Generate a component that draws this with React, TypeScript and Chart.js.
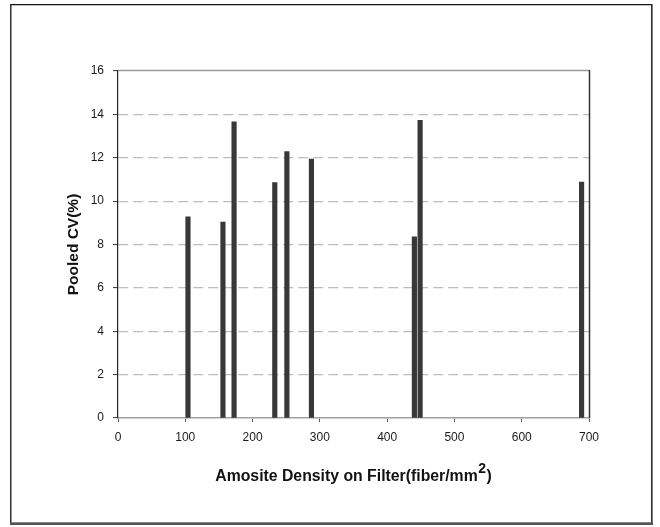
import React, { useEffect, useRef } from "react";
import { Chart, registerables } from "chart.js";

Chart.register(...registerables);

const densities = [104, 156, 172.5, 233, 251, 287.5, 440.5, 449, 689];
const pooledCV = [9.28, 9.03, 13.66, 10.85, 12.29, 11.94, 8.35, 13.72, 10.88];
const yTitle = "Pooled CV(%)";
const xTitleMain = "Amosite Density on Filter(fiber/mm";
const xTitleSup = "2";
const xTitleEnd = ")";

const FONT = "'Liberation Sans', Arial, Helvetica, sans-serif";

const framePlugin = {
  id: "framePlugin",
  afterDraw(chart: any) {
    const { ctx, chartArea } = chart;
    ctx.save();
    // plot top and right borders
    ctx.strokeStyle = "#9a9a9a";
    ctx.lineWidth = 1.5;
    ctx.beginPath();
    ctx.moveTo(chartArea.left, chartArea.top - 0.5);
    ctx.lineTo(chartArea.right, chartArea.top - 0.5);
    ctx.stroke();
    ctx.strokeStyle = "#333";
    ctx.lineWidth = 1.5;
    ctx.beginPath();
    ctx.moveTo(chartArea.right + 0.5, chartArea.top - 1);
    ctx.lineTo(chartArea.right + 0.5, chartArea.bottom);
    ctx.stroke();

    // outer frame
    ctx.strokeStyle = "#111";
    ctx.lineWidth = 1.3;
    ctx.beginPath();
    ctx.moveTo(10.8, 525);
    ctx.lineTo(10.8, 4.6);
    ctx.lineTo(652, 4.6);
    ctx.stroke();
    ctx.strokeStyle = "#333";
    ctx.lineWidth = 1.7;
    ctx.beginPath();
    ctx.moveTo(651.8, 4);
    ctx.lineTo(651.8, 525);
    ctx.stroke();
    ctx.fillStyle = "#555";
    ctx.fillRect(10, 522.3, 643, 2.7);

    // x-axis title with superscript
    const cx = (chartArea.left + chartArea.right) / 2;
    const baseY = 481;
    ctx.fillStyle = "#111";
    ctx.textBaseline = "alphabetic";
    ctx.textAlign = "left";
    const mainFont = "bold 15.8px " + FONT;
    const supFont = "bold 14px " + FONT;
    ctx.font = mainFont;
    const w1 = ctx.measureText(xTitleMain).width;
    const w3 = ctx.measureText(xTitleEnd).width;
    ctx.font = supFont;
    const w2 = ctx.measureText(xTitleSup).width;
    const total = w1 + w2 + w3 + 1;
    let x = cx - total / 2;
    ctx.font = mainFont;
    ctx.fillText(xTitleMain, x, baseY);
    x += w1 + 0.5;
    ctx.font = supFont;
    ctx.fillText(xTitleSup, x, baseY - 8);
    x += w2 + 0.5;
    ctx.font = mainFont;
    ctx.fillText(xTitleEnd, x, baseY);
    ctx.restore();
  },
};

export default function App() {
  const canvasRef = useRef<HTMLCanvasElement | null>(null);

  useEffect(() => {
    const canvas = canvasRef.current;
    if (!canvas) return;
    const chart = new Chart(canvas, {
      type: "bar",
      data: {
        datasets: [
          {
            data: densities.map((d, i) => ({ x: d, y: pooledCV[i] })),
            backgroundColor: "#383838",
            borderColor: "#2a2a2a",
            borderWidth: 0,
            barThickness: 4.5,
          },
        ],
      },
      options: {
        animation: false,
        responsive: false,
        devicePixelRatio: 1,
        layout: { padding: { left: 0, top: 71, right: 71, bottom: 0 } },
        plugins: {
          legend: { display: false },
          tooltip: { enabled: false },
        },
        scales: {
          x: {
            type: "linear",
            min: 0,
            max: 700,
            offset: false,
            afterFit: (s: any) => {
              s.height = 109;
            },
            ticks: {
              stepSize: 100,
              padding: 8,
              color: "#1a1a1a",
              font: { family: FONT, size: 12 },
              maxRotation: 0,
            },
            grid: {
              offset: false,
              drawOnChartArea: false,
              drawTicks: true,
              tickLength: 4,
              tickColor: "#555",
              tickWidth: 1,
            },
            border: { display: true, color: "#a0a0a0", width: 1.6 },
          },
          y: {
            type: "linear",
            min: 0,
            max: 16,
            afterFit: (s: any) => {
              s.width = 118;
            },
            ticks: {
              stepSize: 2,
              padding: 9,
              color: "#1a1a1a",
              font: { family: FONT, size: 12 },
            },
            grid: {
              color: (c: any) =>
                c.tick && (c.tick.value === 0 || c.tick.value === 16)
                  ? "rgba(0,0,0,0)"
                  : "#bdbdbd",
              lineWidth: 1.2,
              drawTicks: true,
              tickLength: 5,
              tickColor: "#333",
              tickWidth: 1,
              tickBorderDash: [],
            } as any,
            border: { display: true, color: "#222", width: 1.2, dash: [10, 5] },
            title: {
              display: true,
              text: yTitle,
              color: "#111",
              font: { family: FONT, size: 15.5, weight: "bold" },
              padding: { top: 64, bottom: 0 },
            },
          },
        },
      },
      plugins: [framePlugin],
    } as any);
    return () => chart.destroy();
  }, []);

  return (
    <div style={{ position: "fixed", left: 0, top: 0, width: 660, height: 527, background: "#fff" }}>
      <canvas ref={canvasRef} width={660} height={527} style={{ display: "block", width: 660, height: 527 }} />
    </div>
  );
}
